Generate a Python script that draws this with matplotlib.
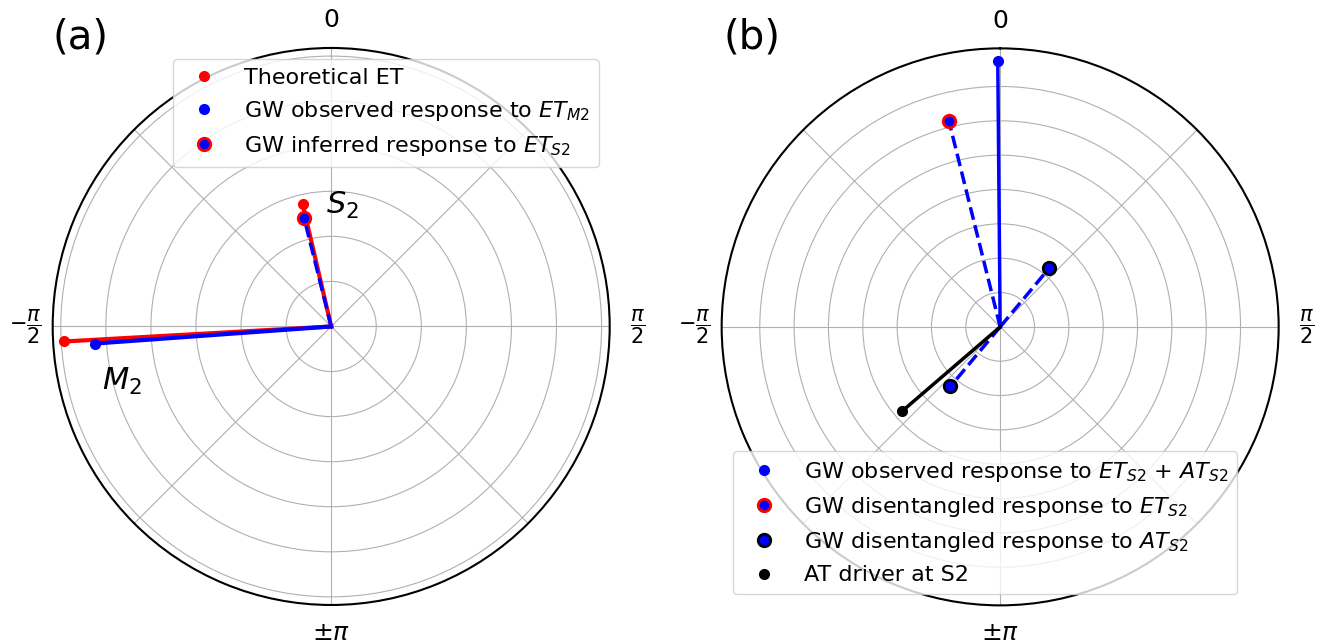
import numpy as np
import matplotlib
matplotlib.use('Agg')
import matplotlib.pyplot as plt

# ---- panel (a): phase [rad], amplitude [-] ----
tides = ['$M_2$', '$S_2$']
et_phase = [-1.627, -0.229]          # theoretical ET (M2, S2)
et_amp = [1.187, 0.557]
gw_m2_phase = -1.643                 # GW observed response to ET_M2
gw_m2_amp = 1.050
gw_s2_phase = -0.245                 # GW inferred response to ET_S2
gw_s2_amp = 0.495

# ---- panel (b) ----
obs_phase = -0.009                   # GW observed response to ET_S2 + AT_S2
obs_amp = 3.866
et_dis_phase = -0.244                # disentangled ET_S2 part
et_dis_amp = 3.096
at_dis_phase = [0.696, -2.446]       # disentangled AT_S2 part
at_dis_amp = [1.118, 1.130]
at_drv_phase = -2.281                # AT driver at S2
at_drv_amp = 1.879

theta_ticks = np.arange(8) * np.pi / 4
theta_labels = ['0', '', r'$\dfrac{\pi}{2}$', '', r'$\pm\pi$', '', r'$-\dfrac{\pi}{2}$', '']

rticks_a = [0.2, 0.4, 0.6, 0.8, 1.0, 1.2]
rmax_a = 1.236
rticks_b = [0.5, 1.0, 1.5, 2.0, 2.5, 3.0, 3.5]
rmax_b = 4.055


def setup(ax, rticks, rmax):
    ax.set_theta_zero_location('N')
    ax.set_theta_direction(-1)
    ax.set_xticks(theta_ticks)
    ax.set_xticklabels(theta_labels, fontsize=18)
    # fractions drawn a bit smaller
    for lab in ax.get_xticklabels():
        if 'frac' in lab.get_text():
            lab.set_fontsize(15)
    ax.tick_params(axis='x', pad=9.5)
    ax.set_rticks(rticks)
    ax.set_yticklabels([])
    ax.set_ylim(0, rmax)
    ax.spines['polar'].set_linewidth(1.5)


fig = plt.figure(figsize=(13.2, 6.44), dpi=100)
ax1 = fig.add_axes([0.0399, 0.0606, 0.4220, 0.8649], projection='polar')
ax2 = fig.add_axes([0.5467, 0.0600, 0.4220, 0.8649], projection='polar')

# (a)
setup(ax1, rticks_a, rmax_a)
for th, r in zip(et_phase, et_amp):
    ax1.plot([th, th], [0, r], '-', color='r', lw=3)
ax1.plot([gw_m2_phase, gw_m2_phase], [0, gw_m2_amp], '-', color='b', lw=3)
ax1.plot([gw_s2_phase, gw_s2_phase], [0, gw_s2_amp], '--', color='b', lw=2.5)
ax1.plot(et_phase, et_amp, 'o', color='r', ms=7, ls='none', label='Theoretical ET')
ax1.plot([gw_m2_phase], [gw_m2_amp], 'o', color='b', ms=7, ls='none',
         label='GW observed response to $ET_{M2}$')
ax1.plot([gw_s2_phase], [gw_s2_amp], 'o', color='b', mec='r', mew=2, ms=9, ls='none',
         label='GW inferred response to $ET_{S2}$')
ax1.annotate(tides[1], xy=(et_phase[1], et_amp[1]), xytext=(17, -1), textcoords='offset points',
             fontsize=22, ha='left', va='center')
ax1.annotate(tides[0], xy=(gw_m2_phase, gw_m2_amp), xytext=(5, -27), textcoords='offset points',
             fontsize=22, ha='left', va='center')
ax1.legend(loc='upper right', fontsize=16)

# (b)
setup(ax2, rticks_b, rmax_b)
ax2.plot([obs_phase, obs_phase], [0, obs_amp], '-', color='b', lw=2.5)
ax2.plot([et_dis_phase, et_dis_phase], [0, et_dis_amp], '--', color='b', lw=2.5)
for th, r in zip(at_dis_phase, at_dis_amp):
    ax2.plot([th, th], [0, r], '--', color='b', lw=2.5)
ax2.plot([at_drv_phase, at_drv_phase], [0, at_drv_amp], '-', color='k', lw=2.5)
ax2.plot([obs_phase], [obs_amp], 'o', color='b', ms=7, ls='none',
         label='GW observed response to $ET_{S2}$ + $AT_{S2}$')
ax2.plot([et_dis_phase], [et_dis_amp], 'o', color='b', mec='r', mew=2, ms=9, ls='none',
         label='GW disentangled response to $ET_{S2}$')
ax2.plot(at_dis_phase, at_dis_amp, 'o', color='b', mec='k', mew=2, ms=9, ls='none',
         label='GW disentangled response to $AT_{S2}$')
ax2.plot([at_drv_phase], [at_drv_amp], 'o', color='k', ms=7, ls='none',
         label='AT driver at S2')
ax2.legend(loc='lower left', fontsize=16)

fig.text(0.040, 0.941, '(a)', fontsize=29, va='center')
fig.text(0.548, 0.941, '(b)', fontsize=29, va='center')

fig.savefig('out.png', dpi=100)
